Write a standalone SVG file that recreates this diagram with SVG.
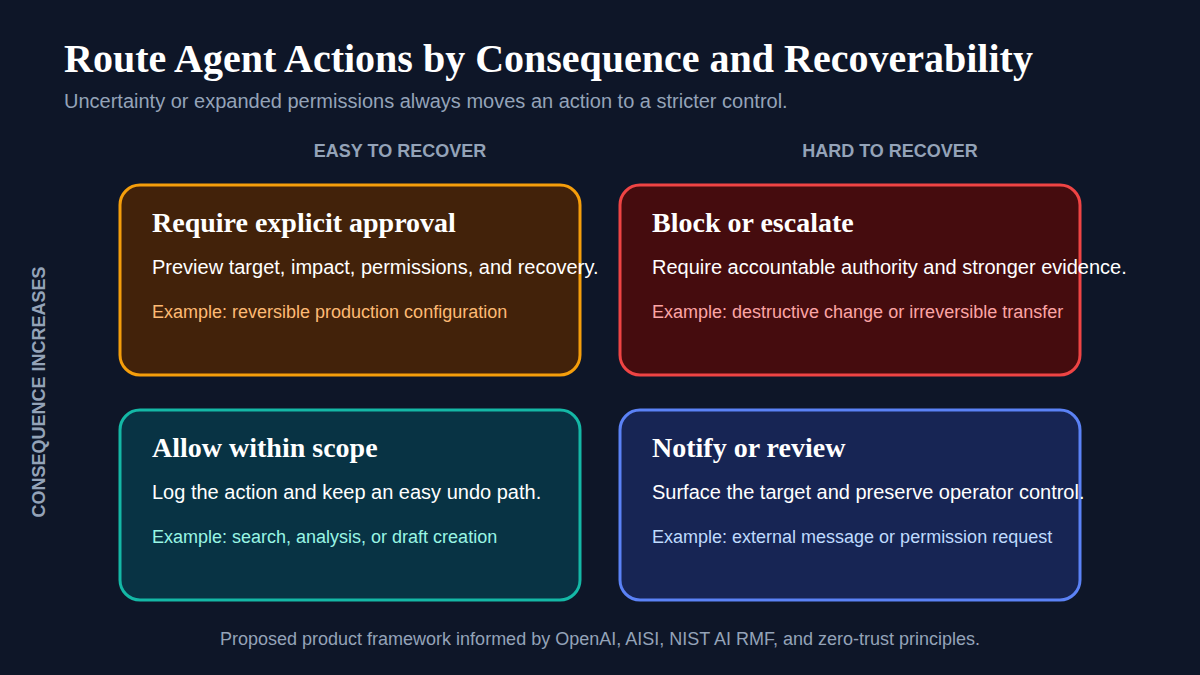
<svg xmlns="http://www.w3.org/2000/svg" width="1200" height="675" viewBox="0 0 1200 675">
<style>
.t{font-family:"Liberation Serif",serif;font-weight:bold;fill:#fff}
.s{font-family:"Liberation Sans",Arial,sans-serif}
.h{font-size:18px;font-weight:bold;fill:#94a3b8}
.d{font-size:20px;fill:#fff}
.e{font-size:18px}
.box{stroke-width:3}
</style>
<rect width="1200" height="675" fill="#0e1628"/>
<text class="t" x="64" y="72" font-size="40">Route Agent Actions by Consequence and Recoverability</text>
<text class="s" x="64" y="108" font-size="20" fill="#94a3b8">Uncertainty or expanded permissions always moves an action to a stricter control.</text>
<text class="s h" x="400" y="157" text-anchor="middle">EASY TO RECOVER</text>
<text class="s h" x="890" y="157" text-anchor="middle">HARD TO RECOVER</text>
<text class="s h" transform="translate(45,392) rotate(-90)" text-anchor="middle">CONSEQUENCE INCREASES</text>
<g id="approval">
<rect class="box" x="120" y="185" width="460" height="190" rx="20" fill="#42220a" stroke="#f59e0b"/>
<text class="t" x="152" y="232" font-size="28">Require explicit approval</text>
<text class="s d" x="152" y="274">Preview target, impact, permissions, and recovery.</text>
<text class="s e" x="152" y="318" fill="#fdba74">Example: reversible production configuration</text>
</g>
<g id="block">
<rect class="box" x="620" y="185" width="460" height="190" rx="20" fill="#450c0e" stroke="#ef4444"/>
<text class="t" x="652" y="232" font-size="28">Block or escalate</text>
<text class="s d" x="652" y="274">Require accountable authority and stronger evidence.</text>
<text class="s e" x="652" y="318" fill="#fca5a5">Example: destructive change or irreversible transfer</text>
</g>
<g id="allow">
<rect class="box" x="120" y="410" width="460" height="190" rx="20" fill="#083344" stroke="#14b8a6"/>
<text class="t" x="152" y="457" font-size="28">Allow within scope</text>
<text class="s d" x="152" y="499">Log the action and keep an easy undo path.</text>
<text class="s e" x="152" y="543" fill="#99f6e4">Example: search, analysis, or draft creation</text>
</g>
<g id="notify">
<rect class="box" x="620" y="410" width="460" height="190" rx="20" fill="#172554" stroke="#5b82f6"/>
<text class="t" x="652" y="457" font-size="28">Notify or review</text>
<text class="s d" x="652" y="499">Surface the target and preserve operator control.</text>
<text class="s e" x="652" y="543" fill="#bfdbfe">Example: external message or permission request</text>
</g>
<g id="connectors"/>
<text class="s" x="600" y="645" font-size="18" fill="#94a3b8" text-anchor="middle">Proposed product framework informed by OpenAI, AISI, NIST AI RMF, and zero-trust principles.</text>
</svg>
